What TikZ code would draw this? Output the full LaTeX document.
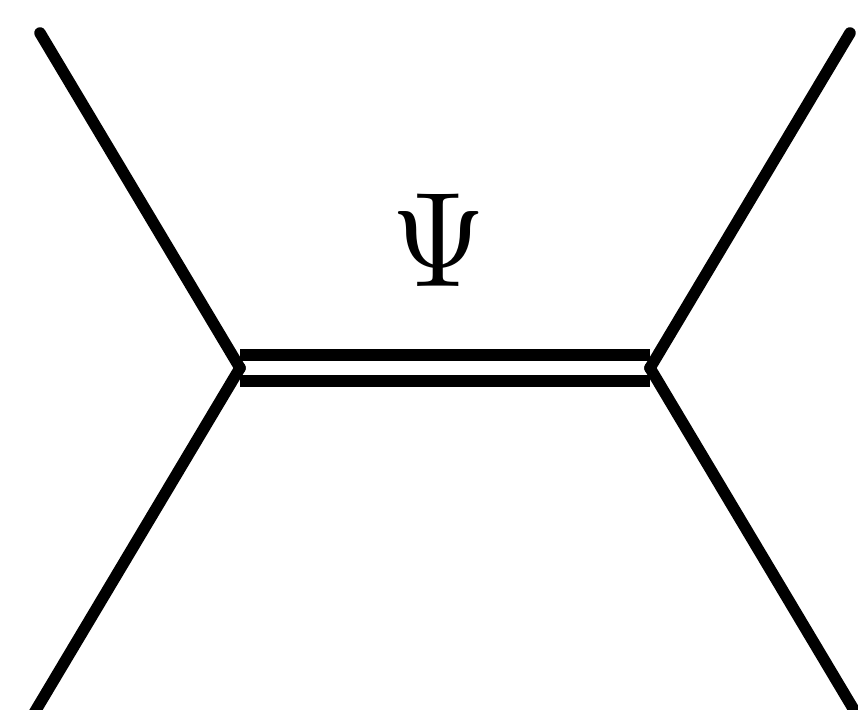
\documentclass[tikz,border=0pt]{standalone}
\usepackage{xcolor}
\usepackage{tikz}
\usetikzlibrary{positioning}

\begin{document}
\begin{tikzpicture}[
        leg/.style={line width=0.23cm, line cap=round, black},
        prop/.style={line width=0.24cm, double=white, double distance=0.28cm},
        label/.style={xscale=6.9, yscale=7.7, inner sep=0pt}
    ]

    \useasboundingbox (0,0) rectangle (17.16,14.2);

    % vertices
    \coordinate (vl) at (4.8,6.84);
    \coordinate (vr) at (13.0,6.84);

    % external ends
    \coordinate (tl) at (0.8,13.54);
    \coordinate (tr) at (17.0,13.54);
    \coordinate (bl) at (0.6,-0.2);
    \coordinate (br) at (17.2,-0.2);

    \node (psi) [label, anchor=base] at (8.78,8.46) {$\Psi$};

    \draw [prop] (vl) -- (vr);

    \draw [leg] (tl) -- (vl);
    \draw [leg] (bl) -- (vl);
    \draw [leg] (tr) -- (vr);
    \draw [leg] (br) -- (vr);

\end{tikzpicture}
\end{document}
